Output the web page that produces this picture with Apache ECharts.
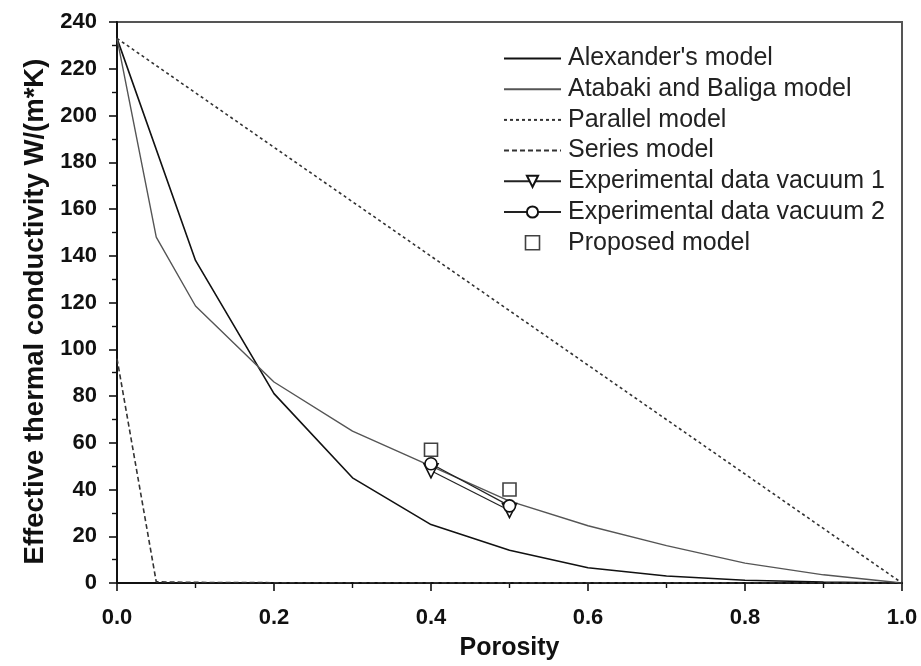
<!DOCTYPE html>
<html>
<head>
<meta charset="utf-8">
<script src="https://cdn.jsdelivr.net/npm/echarts@6/dist/echarts.min.js"></script>
<style>
  html, body { margin: 0; padding: 0; background: #fff; }
  #chart { width: 921px; height: 666px; }
</style>
</head>
<body>
<div id="chart"></div>
<script>
// Effective thermal conductivity vs porosity
const alexPorosity    = [0, 0.1, 0.2, 0.3, 0.4, 0.5, 0.6, 0.7, 0.8, 0.9, 1.0];
const alexK           = [233, 138, 81, 45, 25, 14, 6.5, 3, 1.2, 0.4, 0];

const atabakiPorosity = [0, 0.05, 0.1, 0.2, 0.3, 0.4, 0.5, 0.6, 0.7, 0.8, 0.9, 1.0];
const atabakiK        = [233, 148, 118.5, 86, 65, 50, 35, 24.5, 16, 8.5, 3.5, 0];

const parallelPorosity = [0, 1.0];
const parallelK        = [233, 0];

const seriesPorosity = [0, 0.05, 0.1, 0.2, 0.3, 0.4, 0.5, 0.6, 0.7, 0.8, 0.9, 1.0];
const seriesK        = [96, 0.5, 0.26, 0.13, 0.09, 0.07, 0.05, 0.04, 0.04, 0.03, 0.03, 0.03];

const expPorosity = [0.4, 0.5];
const expVacuum1  = [48, 31];
const expVacuum2  = [51, 33];
const proposedK   = [57, 40];

const xTicks = { min: 0, max: 1, interval: 0.2 };
const yTicks = { min: 0, max: 240, interval: 20 };

const pairs = (xs, ys) => xs.map((x, i) => [x, ys[i]]);

const FONT = '"Liberation Sans", Arial, sans-serif';
const SQUARE = 'path://M0,0L10,0L10,10L0,10Z';

const chart = echarts.init(document.getElementById('chart'), null, { renderer: 'canvas' });

const axisCommon = {
  type: 'value',
  axisLine: { show: true, onZero: false, lineStyle: { color: '#111', width: 2 } },
  axisTick: { show: true, inside: false, length: 8, lineStyle: { color: '#111', width: 1.6 } },
  minorTick: { show: true, splitNumber: 2, length: 5, lineStyle: { color: '#111', width: 1.4 } },
  splitLine: { show: false },
  axisLabel: { color: '#111', fontFamily: FONT, fontWeight: 'bold', fontSize: 22 },
  nameTextStyle: { color: '#111', fontFamily: FONT, fontWeight: 'bold' }
};

// Plain line entries in the legend show only the stroke, no marker
const lineOnly = name => ({ name, itemStyle: { opacity: 0 } });

chart.setOption({
  backgroundColor: '#fff',
  animation: false,
  grid: {
    left: 117, right: 19, top: 22, bottom: 78,
    show: true, borderColor: '#555', borderWidth: 2, backgroundColor: 'transparent'
  },
  xAxis: Object.assign({}, axisCommon, {
    min: xTicks.min, max: xTicks.max, interval: xTicks.interval,
    name: 'Porosity', nameLocation: 'middle', nameGap: 53,
    nameTextStyle: Object.assign({}, axisCommon.nameTextStyle, { fontSize: 25 }),
    axisLabel: Object.assign({}, axisCommon.axisLabel, {
      margin: 24, formatter: v => v.toFixed(1)
    })
  }),
  yAxis: Object.assign({}, axisCommon, {
    min: yTicks.min, max: yTicks.max, interval: yTicks.interval,
    name: 'Effective thermal conductivity W/(m*K)', nameLocation: 'middle', nameGap: 57,
    nameTextStyle: Object.assign({}, axisCommon.nameTextStyle, { fontSize: 27.5, padding: [0, 18, 0, 0] }),
    axisLabel: Object.assign({}, axisCommon.axisLabel, { margin: 20 })
  }),
  legend: {
    orient: 'vertical',
    left: 498, top: 41,
    itemWidth: 57, itemHeight: 14, itemGap: 5.7,
    textStyle: { color: '#222', fontFamily: FONT, fontSize: 25, padding: [0, 0, 0, 2] },
    data: [
      lineOnly("Alexander's model"),
      lineOnly('Atabaki and Baliga model'),
      lineOnly('Parallel model'),
      lineOnly('Series model'),
      'Experimental data vacuum 1',
      'Experimental data vacuum 2',
      { name: 'Proposed model', icon: SQUARE, itemStyle: { color: '#fff', borderColor: '#111', borderWidth: 1.6 } }
    ]
  },
  series: [
    {
      name: "Alexander's model", type: 'line', data: pairs(alexPorosity, alexK),
      symbol: 'none', lineStyle: { color: '#111', width: 1.6 }, itemStyle: { color: '#111' }, z: 3
    },
    {
      name: 'Atabaki and Baliga model', type: 'line', data: pairs(atabakiPorosity, atabakiK),
      symbol: 'none', lineStyle: { color: '#555', width: 1.4 }, itemStyle: { color: '#555' }, z: 3
    },
    {
      name: 'Parallel model', type: 'line', data: pairs(parallelPorosity, parallelK),
      symbol: 'none', lineStyle: { color: '#333', width: 1.6, type: [3, 3] }, itemStyle: { color: '#333' }, z: 3
    },
    {
      name: 'Series model', type: 'line', data: pairs(seriesPorosity, seriesK),
      symbol: 'none', lineStyle: { color: '#333', width: 1.6, type: [5, 3] }, itemStyle: { color: '#333' }, z: 3
    },
    {
      name: 'Experimental data vacuum 1', type: 'line', data: pairs(expPorosity, expVacuum1),
      symbol: 'triangle', symbolSize: 14, symbolRotate: 180,
      lineStyle: { color: '#222', width: 1.2 },
      itemStyle: { color: '#fff', borderColor: '#111', borderWidth: 1.6 }, z: 4
    },
    {
      name: 'Experimental data vacuum 2', type: 'line', data: pairs(expPorosity, expVacuum2),
      symbol: 'circle', symbolSize: 12,
      lineStyle: { color: '#222', width: 1.2 },
      itemStyle: { color: '#fff', borderColor: '#111', borderWidth: 1.6 }, z: 5
    },
    {
      name: 'Proposed model', type: 'scatter', data: pairs(expPorosity, proposedK),
      symbol: 'rect', symbolSize: 13,
      itemStyle: { color: '#fff', borderColor: '#111', borderWidth: 1.6 }, z: 5
    }
  ]
});
</script>
</body>
</html>
